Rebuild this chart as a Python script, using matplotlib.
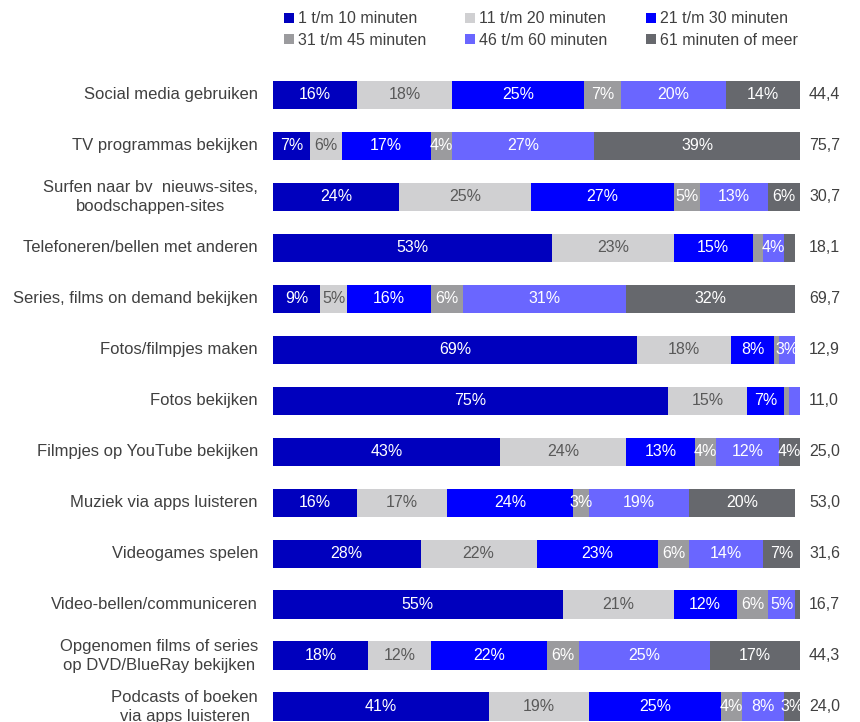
import matplotlib.pyplot as plt
from matplotlib.patches import Patch

plt.rcParams['font.family'] = ['Liberation Sans', 'DejaVu Sans']

# ----------------------------
# Data
# ----------------------------
categories = [
    "Social media gebruiken",
    "TV programmas bekijken",
    "Surfen naar bv  nieuws-sites,\nboodschappen-sites",
    "Telefoneren/bellen met anderen",
    "Series, films on demand bekijken",
    "Fotos/filmpjes maken",
    "Fotos bekijken",
    "Filmpjes op YouTube bekijken",
    "Muziek via apps luisteren",
    "Videogames spelen",
    "Video-bellen/communiceren",
    "Opgenomen films of series\nop DVD/BlueRay bekijken",
    "Podcasts of boeken\nvia apps luisteren",
]
series_names = [
    "1 t/m 10 minuten", "11 t/m 20 minuten", "21 t/m 30 minuten",
    "31 t/m 45 minuten", "46 t/m 60 minuten", "61 minuten of meer",
]
min_1_10 = [16, 7, 24, 53, 9, 69, 75, 43, 16, 28, 55, 18, 41]
min_11_20 = [18, 6, 25, 23, 5, 18, 15, 24, 17, 22, 21, 12, 19]
min_21_30 = [25, 17, 27, 15, 16, 8, 7, 13, 24, 23, 12, 22, 25]
min_31_45 = [7, 4, 5, 2, 6, 1, 1, 4, 3, 6, 6, 6, 4]
min_46_60 = [20, 27, 13, 4, 31, 3, 2, 12, 19, 14, 5, 25, 8]
min_61_plus = [14, 39, 6, 2, 32, 0, 0, 4, 20, 7, 1, 17, 3]
averages = ["44,4", "75,7", "30,7", "18,1", "69,7", "12,9", "11,0",
            "25,0", "53,0", "31,6", "16,7", "44,3", "24,0"]

series = [min_1_10, min_11_20, min_21_30, min_31_45, min_46_60, min_61_plus]
colors = ['#0000BE', '#D0D0D2', '#0000FF', '#9B9B9E', '#6A66FF', '#66686D']
label_colors = ['white', '#595959', 'white', 'white', 'white', 'white']
text_color = '#404040'
fs = 11.5

# ----------------------------
# Figure
# ----------------------------
fig = plt.figure(figsize=(8.6, 7.22), dpi=100)
ax = fig.add_axes([273 / 860, 0.0, 527 / 860, (722 - 69.5) / 722])
ax.set_xlim(0, 100)
ax.set_ylim(12.3, -0.5)
ax.axis('off')

ypos = list(range(len(categories)))
left = [0] * len(categories)
for vals, col, lcol in zip(series, colors, label_colors):
    ax.barh(ypos, vals, left=left, height=0.56, color=col, linewidth=0)
    for i, v in enumerate(vals):
        if v >= 3:
            ax.text(left[i] + v / 2, i, f"{v}%", ha='center', va='center',
                    color=lcol, fontsize=fs)
    left = [l + v for l, v in zip(left, vals)]

# category labels and averages
for i, (cat, avg) in enumerate(zip(categories, averages)):
    ax.text(-2.85, i, cat, ha='right', va='center', multialignment='center',
            color=text_color, fontsize=12, linespacing=1.3)
    ax.text(101.7, i, avg, ha='left', va='center', color=text_color, fontsize=fs)

# ----------------------------
# Legend
# ----------------------------
handles = [Patch(facecolor=c, edgecolor='none') for c in colors]
order = [0, 3, 1, 4, 2, 5]
fig.legend([handles[k] for k in order], [series_names[k] for k in order],
           ncol=3, loc='upper left', bbox_to_anchor=(270 / 860, 1 + 3 / 722),
           frameon=False, fontsize=fs, handlelength=0.6, handleheight=0.6,
           handletextpad=0.25, columnspacing=2.45, labelspacing=0.4,
           labelcolor=text_color)

fig.savefig("out.png", dpi=100)
